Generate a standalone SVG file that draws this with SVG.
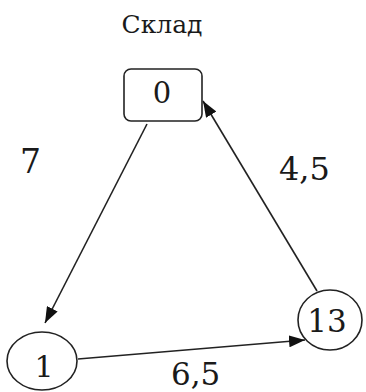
<svg xmlns="http://www.w3.org/2000/svg" width="366" height="392" viewBox="0 0 366 392">
<style>
.t{font-family:'DejaVu Serif','Liberation Serif',serif;fill:#1a1a1a}
.s{fill:#fff;stroke:#222;stroke-width:1.6}
.c{fill:none;stroke:#222;stroke-width:1.6}
</style>
<defs>
<marker id="ah" viewBox="0 0 16 12" refX="16" refY="6" markerWidth="16" markerHeight="12" markerUnits="userSpaceOnUse" orient="auto">
<path d="M0,0 L16,6 L0,12 Z" fill="#111"/>
</marker>
</defs>
<rect width="366" height="392" fill="#fff"/>
<text class="t" x="162" y="33" font-size="25" text-anchor="middle">Склад</text>
<g id="connectors">
<line class="c" x1="147" y1="124" x2="45" y2="323" marker-end="url(#ah)"/>
<line class="c" x1="78" y1="359" x2="305" y2="340" marker-end="url(#ah)"/>
<line class="c" x1="317" y1="291" x2="203" y2="101" marker-end="url(#ah)"/>
<text class="t" x="20" y="173" font-size="33">7</text>
<text class="t" x="279" y="180" font-size="32">4,5</text>
<text class="t" x="171" y="385" font-size="31">6,5</text>
</g>
<g id="n0">
<rect class="s" x="124" y="69" width="78" height="52" rx="7"/>
<text class="t" x="162" y="103" font-size="29" text-anchor="middle">0</text>
</g>
<g id="n1">
<ellipse class="s" cx="42" cy="361" rx="35" ry="29"/>
<text class="t" x="44" y="377" font-size="30" text-anchor="middle">1</text>
</g>
<g id="n13">
<ellipse class="s" cx="330" cy="320" rx="32" ry="30"/>
<text class="t" x="327" y="332" font-size="31" text-anchor="middle">13</text>
</g>
</svg>
